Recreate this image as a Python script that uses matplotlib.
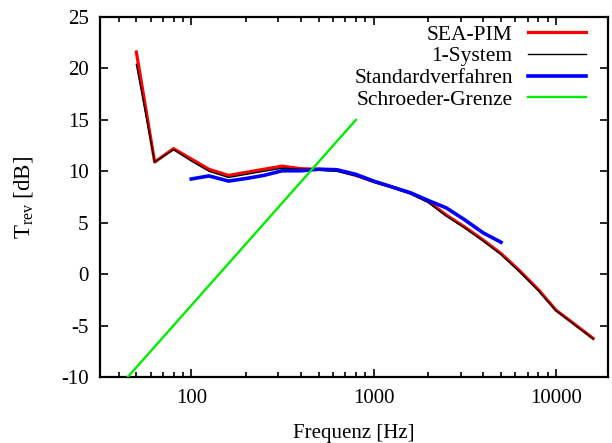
import matplotlib
matplotlib.use("Agg")
import matplotlib.pyplot as plt
from matplotlib.ticker import FixedLocator, LogLocator, NullFormatter

plt.rcParams['font.family'] = ['Liberation Serif', 'DejaVu Serif']
plt.rcParams['mathtext.fontset'] = 'custom'
plt.rcParams['mathtext.rm'] = 'Liberation Serif'
plt.rcParams['mathtext.it'] = 'Liberation Serif'

# 1/3-octave band centre frequencies
freq_sea = [50, 63, 80, 100, 125, 160, 200, 250, 315, 400, 500, 630, 800, 1000,
            1250, 1600, 2000, 2500, 3150, 4000, 5000, 6300, 8000, 10000, 12500, 16000]
sea_pim = [21.6, 10.9, 12.2, 11.2, 10.2, 9.6, 9.9, 10.2, 10.5, 10.25, 10.2, 10.1, 9.6, 9.0,
           8.5, 7.85, 7.05, 5.75, 4.6, 3.3, 2.0, 0.35, -1.5, -3.5, -4.8, -6.25]
one_system = [20.4, 10.9, 12.1, 11.0, 10.0, 9.4, 9.7, 10.0, 10.3, 10.2, 10.1, 10.0, 9.55, 8.95,
              8.45, 7.8, 6.95, 5.65, 4.5, 3.2, 1.9, 0.25, -1.6, -3.55, -4.85, -6.3]
freq_std = [100, 125, 160, 200, 250, 315, 400, 500, 630, 800, 1000, 1250, 1600, 2000,
            2500, 3150, 4000, 5000]
standard = [9.25, 9.55, 9.05, 9.3, 9.6, 10.05, 10.05, 10.2, 10.15, 9.7, 9.05, 8.5, 7.9, 7.15,
            6.45, 5.3, 4.0, 3.1]
freq_schroeder = [40, 800]
schroeder = [-11.0, 15.0]

xticks = [100, 1000, 10000]
xticklabels = ['100', '1000', '10000']
yticks = [-10, -5, 0, 5, 10, 15, 20, 25]

fig = plt.figure(figsize=(6.12, 4.43), dpi=100)
ax = fig.add_axes([0.163, 0.149, 0.8305, 0.8126])

ax.plot(freq_sea, sea_pim, color='#ff0000', lw=2.3, label='SEA-PIM', zorder=2)
ax.plot(freq_sea, one_system, color='#000000', lw=1.0, label='1-System', zorder=3)
ax.plot(freq_std, standard, color='#0000ff', lw=2.6, label='Standardverfahren', zorder=4)
ax.plot(freq_schroeder, schroeder, color='#00ee00', lw=1.7, label='Schroeder-Grenze', zorder=5)

ax.set_xscale('log')
ax.set_xlim(31.5, 19300)
ax.set_ylim(-10, 25)
ax.xaxis.set_major_locator(FixedLocator(xticks))
ax.set_xticklabels(xticklabels)
ax.xaxis.set_minor_locator(LogLocator(base=10, subs=range(2, 10)))
ax.xaxis.set_minor_formatter(NullFormatter())
ax.set_yticks(yticks)
ax.set_yticklabels([str(v) for v in yticks])

ax.tick_params(which='both', direction='in', top=True, right=True, labelsize=15,
               width=1.2, color='black')
ax.tick_params(which='major', length=6)
ax.tick_params(which='minor', length=3.5)
ax.tick_params(axis='x', pad=9)
ax.tick_params(axis='y', pad=8)
for s in ax.spines.values():
    s.set_linewidth(1.6)

ax.set_xlabel('Frequenz [Hz]', fontsize=15, labelpad=11)
ax.set_ylabel(r'T$_{\mathrm{rev}}$ [dB]', fontsize=16.5, labelpad=19)

leg = ax.legend(loc='upper right', markerfirst=False, frameon=False, fontsize=15.5,
                handlelength=2.7, handletextpad=0.7, labelspacing=0.08,
                bbox_to_anchor=(0.965, 0.991), borderaxespad=0.0, borderpad=0.2)

fig.savefig('out.png', dpi=100)
